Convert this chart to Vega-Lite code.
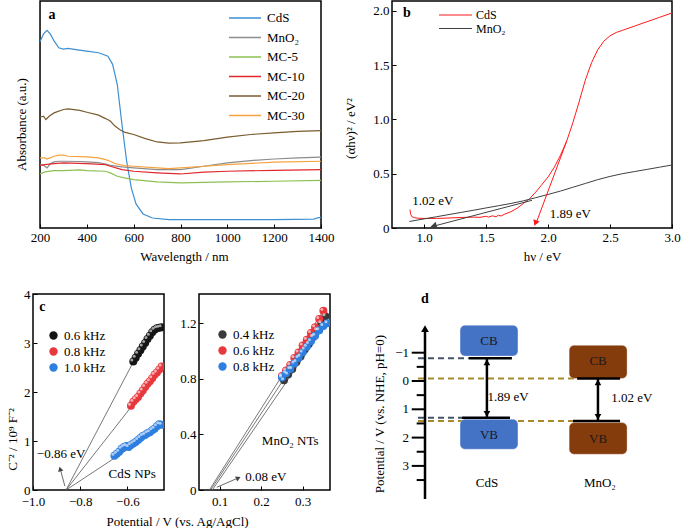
{
"$schema": "https://vega.github.io/schema/vega-lite/v6.json",
"padding": {"left": 5, "top": 0, "right": 0, "bottom": 0},
"config": {
  "font": "Liberation Serif",
  "view": {"stroke": "#000", "strokeWidth": 1.5},
  "axis": {"domain": false, "grid": false, "tickColor": "#000", "tickSize": -4, "tickWidth": 1, "labelFont": "Liberation Serif", "labelFontSize": 13, "labelColor": "#000", "labelPadding": 7, "labelFlush": false, "labelOverlap": false, "titleFont": "Liberation Serif", "titleFontSize": 13, "titleFontWeight": "normal", "titleColor": "#000"},
  "legend": {"labelFont": "Liberation Serif", "labelColor": "#000", "labelFontSize": 13},
  "text": {"font": "Liberation Serif", "fontSize": 13, "color": "#000"}
},
"datasets": {
  "abs": [
    {"s":"CdS","w":200,"v":82.1},{"s":"CdS","w":215,"v":85.5},{"s":"CdS","w":230,"v":87.1},{"s":"CdS","w":245,"v":85.3},{"s":"CdS","w":260,"v":82.4},{"s":"CdS","w":280,"v":79.4},{"s":"CdS","w":300,"v":78.8},{"s":"CdS","w":320,"v":79.1},{"s":"CdS","w":360,"v":78.5},{"s":"CdS","w":400,"v":77.9},{"s":"CdS","w":450,"v":77.2},{"s":"CdS","w":490,"v":75.7},{"s":"CdS","w":510,"v":72.1},{"s":"CdS","w":530,"v":63.2},{"s":"CdS","w":550,"v":45.6},{"s":"CdS","w":570,"v":29.4},{"s":"CdS","w":590,"v":17.6},{"s":"CdS","w":610,"v":10.6},{"s":"CdS","w":640,"v":6.2},{"s":"CdS","w":680,"v":4.4},{"s":"CdS","w":750,"v":3.7},{"s":"CdS","w":800,"v":3.7},{"s":"CdS","w":1000,"v":3.7},{"s":"CdS","w":1200,"v":3.7},{"s":"CdS","w":1370,"v":3.9},{"s":"CdS","w":1385,"v":4.5},{"s":"CdS","w":1400,"v":4.7},
    {"s":"MnO₂","w":200,"v":27.9},{"s":"MnO₂","w":215,"v":27.6},{"s":"MnO₂","w":230,"v":26.5},{"s":"MnO₂","w":245,"v":28.4},{"s":"MnO₂","w":260,"v":29.1},{"s":"MnO₂","w":280,"v":29.4},{"s":"MnO₂","w":300,"v":29.4},{"s":"MnO₂","w":370,"v":29.3},{"s":"MnO₂","w":400,"v":29.1},{"s":"MnO₂","w":450,"v":28.8},{"s":"MnO₂","w":480,"v":28.2},{"s":"MnO₂","w":500,"v":27.6},{"s":"MnO₂","w":550,"v":26.9},{"s":"MnO₂","w":600,"v":26.5},{"s":"MnO₂","w":700,"v":25.7},{"s":"MnO₂","w":800,"v":25.7},{"s":"MnO₂","w":900,"v":27.2},{"s":"MnO₂","w":1000,"v":28.7},{"s":"MnO₂","w":1100,"v":29.7},{"s":"MnO₂","w":1200,"v":30.4},{"s":"MnO₂","w":1300,"v":30.9},{"s":"MnO₂","w":1400,"v":31.2},
    {"s":"MC-5","w":200,"v":23.8},{"s":"MC-5","w":220,"v":24.7},{"s":"MC-5","w":260,"v":25.3},{"s":"MC-5","w":300,"v":25.3},{"s":"MC-5","w":370,"v":25.6},{"s":"MC-5","w":400,"v":25.3},{"s":"MC-5","w":480,"v":25.0},{"s":"MC-5","w":500,"v":24.3},{"s":"MC-5","w":530,"v":22.8},{"s":"MC-5","w":560,"v":22.1},{"s":"MC-5","w":600,"v":21.3},{"s":"MC-5","w":700,"v":20.3},{"s":"MC-5","w":800,"v":19.9},{"s":"MC-5","w":1000,"v":20.3},{"s":"MC-5","w":1200,"v":20.6},{"s":"MC-5","w":1400,"v":21.0},
    {"s":"MC-10","w":200,"v":27.6},{"s":"MC-10","w":220,"v":27.9},{"s":"MC-10","w":260,"v":28.4},{"s":"MC-10","w":300,"v":28.7},{"s":"MC-10","w":400,"v":28.4},{"s":"MC-10","w":480,"v":27.9},{"s":"MC-10","w":500,"v":27.2},{"s":"MC-10","w":550,"v":25.7},{"s":"MC-10","w":600,"v":25.0},{"s":"MC-10","w":700,"v":24.3},{"s":"MC-10","w":800,"v":23.8},{"s":"MC-10","w":900,"v":24.6},{"s":"MC-10","w":1000,"v":25.0},{"s":"MC-10","w":1200,"v":25.4},{"s":"MC-10","w":1400,"v":25.7},
    {"s":"MC-20","w":200,"v":48.8},{"s":"MC-20","w":215,"v":49.3},{"s":"MC-20","w":225,"v":47.8},{"s":"MC-20","w":240,"v":49.3},{"s":"MC-20","w":260,"v":50.7},{"s":"MC-20","w":300,"v":52.2},{"s":"MC-20","w":320,"v":52.5},{"s":"MC-20","w":370,"v":51.8},{"s":"MC-20","w":400,"v":51.0},{"s":"MC-20","w":450,"v":49.7},{"s":"MC-20","w":480,"v":48.2},{"s":"MC-20","w":500,"v":47.1},{"s":"MC-20","w":520,"v":44.9},{"s":"MC-20","w":540,"v":43.4},{"s":"MC-20","w":560,"v":42.2},{"s":"MC-20","w":600,"v":41.2},{"s":"MC-20","w":650,"v":39.4},{"s":"MC-20","w":700,"v":37.9},{"s":"MC-20","w":750,"v":37.4},{"s":"MC-20","w":800,"v":37.5},{"s":"MC-20","w":900,"v":38.5},{"s":"MC-20","w":1000,"v":40.0},{"s":"MC-20","w":1100,"v":41.2},{"s":"MC-20","w":1200,"v":41.9},{"s":"MC-20","w":1300,"v":42.6},{"s":"MC-20","w":1400,"v":42.9},
    {"s":"MC-30","w":200,"v":30.9},{"s":"MC-30","w":220,"v":30.9},{"s":"MC-30","w":230,"v":30.4},{"s":"MC-30","w":260,"v":31.6},{"s":"MC-30","w":280,"v":32.1},{"s":"MC-30","w":300,"v":32.1},{"s":"MC-30","w":320,"v":31.6},{"s":"MC-30","w":400,"v":31.3},{"s":"MC-30","w":450,"v":30.9},{"s":"MC-30","w":480,"v":30.1},{"s":"MC-30","w":500,"v":29.4},{"s":"MC-30","w":520,"v":28.4},{"s":"MC-30","w":560,"v":27.5},{"s":"MC-30","w":600,"v":27.2},{"s":"MC-30","w":700,"v":26.5},{"s":"MC-30","w":750,"v":26.2},{"s":"MC-30","w":800,"v":26.5},{"s":"MC-30","w":900,"v":27.2},{"s":"MC-30","w":1000,"v":27.9},{"s":"MC-30","w":1200,"v":29.0},{"s":"MC-30","w":1400,"v":29.4}
  ],
  "b_curves": [
    {"s":"CdS","x":0.885,"y":0.17},{"s":"CdS","x":0.89,"y":0.13},{"s":"CdS","x":0.9,"y":0.105},{"s":"CdS","x":0.92,"y":0.095},{"s":"CdS","x":0.95,"y":0.09},{"s":"CdS","x":1.0,"y":0.088},{"s":"CdS","x":1.1,"y":0.088},{"s":"CdS","x":1.2,"y":0.092},{"s":"CdS","x":1.3,"y":0.097},{"s":"CdS","x":1.4,"y":0.1},{"s":"CdS","x":1.45,"y":0.098},{"s":"CdS","x":1.5,"y":0.108},{"s":"CdS","x":1.52,"y":0.1},{"s":"CdS","x":1.55,"y":0.112},{"s":"CdS","x":1.58,"y":0.104},{"s":"CdS","x":1.6,"y":0.118},{"s":"CdS","x":1.62,"y":0.11},{"s":"CdS","x":1.65,"y":0.128},{"s":"CdS","x":1.7,"y":0.15},{"s":"CdS","x":1.75,"y":0.182},{"s":"CdS","x":1.8,"y":0.225},{"s":"CdS","x":1.85,"y":0.27},{"s":"CdS","x":1.9,"y":0.33},{"s":"CdS","x":1.95,"y":0.4},{"s":"CdS","x":2.0,"y":0.47},{"s":"CdS","x":2.05,"y":0.56},{"s":"CdS","x":2.1,"y":0.67},{"s":"CdS","x":2.15,"y":0.8},{"s":"CdS","x":2.2,"y":0.97},{"s":"CdS","x":2.25,"y":1.16},{"s":"CdS","x":2.3,"y":1.36},{"s":"CdS","x":2.35,"y":1.52},{"s":"CdS","x":2.4,"y":1.64},{"s":"CdS","x":2.45,"y":1.72},{"s":"CdS","x":2.5,"y":1.77},{"s":"CdS","x":2.55,"y":1.8},{"s":"CdS","x":2.6,"y":1.82},{"s":"CdS","x":2.7,"y":1.86},{"s":"CdS","x":2.8,"y":1.9},{"s":"CdS","x":2.9,"y":1.94},{"s":"CdS","x":3.0,"y":1.98},
    {"s":"MnO₂","x":0.88,"y":0.06},{"s":"MnO₂","x":0.95,"y":0.074},{"s":"MnO₂","x":1.0,"y":0.084},{"s":"MnO₂","x":1.1,"y":0.104},{"s":"MnO₂","x":1.2,"y":0.124},{"s":"MnO₂","x":1.3,"y":0.144},{"s":"MnO₂","x":1.4,"y":0.164},{"s":"MnO₂","x":1.5,"y":0.185},{"s":"MnO₂","x":1.6,"y":0.205},{"s":"MnO₂","x":1.7,"y":0.226},{"s":"MnO₂","x":1.8,"y":0.25},{"s":"MnO₂","x":1.9,"y":0.279},{"s":"MnO₂","x":2.0,"y":0.309},{"s":"MnO₂","x":2.1,"y":0.34},{"s":"MnO₂","x":2.2,"y":0.375},{"s":"MnO₂","x":2.3,"y":0.41},{"s":"MnO₂","x":2.4,"y":0.445},{"s":"MnO₂","x":2.5,"y":0.475},{"s":"MnO₂","x":2.6,"y":0.5},{"s":"MnO₂","x":2.7,"y":0.52},{"s":"MnO₂","x":2.8,"y":0.54},{"s":"MnO₂","x":2.9,"y":0.56},{"s":"MnO₂","x":3.0,"y":0.58}
  ],
  "cl_pts": [
    {"s":"0.6 kHz","x":-0.575,"y":2.62},{"s":"0.6 kHz","x":-0.565,"y":2.7},{"s":"0.6 kHz","x":-0.555,"y":2.78},{"s":"0.6 kHz","x":-0.545,"y":2.85},{"s":"0.6 kHz","x":-0.535,"y":2.93},{"s":"0.6 kHz","x":-0.525,"y":3.0},{"s":"0.6 kHz","x":-0.515,"y":3.08},{"s":"0.6 kHz","x":-0.505,"y":3.15},{"s":"0.6 kHz","x":-0.495,"y":3.22},{"s":"0.6 kHz","x":-0.485,"y":3.27},{"s":"0.6 kHz","x":-0.475,"y":3.3},{"s":"0.6 kHz","x":-0.465,"y":3.31},{"s":"0.6 kHz","x":-0.455,"y":3.32},
    {"s":"0.8 kHz","x":-0.585,"y":1.72},{"s":"0.8 kHz","x":-0.575,"y":1.8},{"s":"0.8 kHz","x":-0.565,"y":1.85},{"s":"0.8 kHz","x":-0.555,"y":1.9},{"s":"0.8 kHz","x":-0.545,"y":1.97},{"s":"0.8 kHz","x":-0.535,"y":2.03},{"s":"0.8 kHz","x":-0.525,"y":2.1},{"s":"0.8 kHz","x":-0.515,"y":2.17},{"s":"0.8 kHz","x":-0.505,"y":2.22},{"s":"0.8 kHz","x":-0.495,"y":2.28},{"s":"0.8 kHz","x":-0.485,"y":2.35},{"s":"0.8 kHz","x":-0.475,"y":2.4},{"s":"0.8 kHz","x":-0.465,"y":2.46},{"s":"0.8 kHz","x":-0.455,"y":2.52},
    {"s":"1.0 kHz","x":-0.655,"y":0.7},{"s":"1.0 kHz","x":-0.645,"y":0.74},{"s":"1.0 kHz","x":-0.635,"y":0.78},{"s":"1.0 kHz","x":-0.625,"y":0.84},{"s":"1.0 kHz","x":-0.615,"y":0.88},{"s":"1.0 kHz","x":-0.605,"y":0.9},{"s":"1.0 kHz","x":-0.595,"y":0.88},{"s":"1.0 kHz","x":-0.585,"y":0.92},{"s":"1.0 kHz","x":-0.575,"y":0.95},{"s":"1.0 kHz","x":-0.565,"y":0.98},{"s":"1.0 kHz","x":-0.555,"y":1.02},{"s":"1.0 kHz","x":-0.545,"y":1.06},{"s":"1.0 kHz","x":-0.535,"y":1.1},{"s":"1.0 kHz","x":-0.525,"y":1.12},{"s":"1.0 kHz","x":-0.515,"y":1.16},{"s":"1.0 kHz","x":-0.505,"y":1.18},{"s":"1.0 kHz","x":-0.495,"y":1.22},{"s":"1.0 kHz","x":-0.485,"y":1.25},{"s":"1.0 kHz","x":-0.475,"y":1.3},{"s":"1.0 kHz","x":-0.465,"y":1.34},{"s":"1.0 kHz","x":-0.455,"y":1.33}
  ],
  "cl_fit": [
    {"s":"0.6 kHz","x":-0.86,"y":0},{"s":"0.6 kHz","x":-0.5,"y":3.3},
    {"s":"0.8 kHz","x":-0.86,"y":0},{"s":"0.8 kHz","x":-0.45,"y":2.52},
    {"s":"1.0 kHz","x":-0.86,"y":0},{"s":"1.0 kHz","x":-0.45,"y":1.3}
  ],
  "cr_pts": [
    {"s":"0.4 kHz","x":0.255,"y":0.79},{"s":"0.4 kHz","x":0.265,"y":0.83},{"s":"0.4 kHz","x":0.275,"y":0.87},{"s":"0.4 kHz","x":0.285,"y":0.92},{"s":"0.4 kHz","x":0.295,"y":0.96},{"s":"0.4 kHz","x":0.305,"y":1.01},{"s":"0.4 kHz","x":0.315,"y":1.05},{"s":"0.4 kHz","x":0.325,"y":1.1},{"s":"0.4 kHz","x":0.335,"y":1.15},{"s":"0.4 kHz","x":0.345,"y":1.2},{"s":"0.4 kHz","x":0.355,"y":1.25},
    {"s":"0.6 kHz","x":0.25,"y":0.82},{"s":"0.6 kHz","x":0.26,"y":0.86},{"s":"0.6 kHz","x":0.27,"y":0.9},{"s":"0.6 kHz","x":0.28,"y":0.95},{"s":"0.6 kHz","x":0.29,"y":0.99},{"s":"0.6 kHz","x":0.3,"y":1.04},{"s":"0.6 kHz","x":0.31,"y":1.08},{"s":"0.6 kHz","x":0.32,"y":1.13},{"s":"0.6 kHz","x":0.33,"y":1.17},{"s":"0.6 kHz","x":0.34,"y":1.23},{"s":"0.6 kHz","x":0.35,"y":1.29},
    {"s":"0.8 kHz","x":0.25,"y":0.81},{"s":"0.8 kHz","x":0.26,"y":0.84},{"s":"0.8 kHz","x":0.27,"y":0.87},{"s":"0.8 kHz","x":0.28,"y":0.91},{"s":"0.8 kHz","x":0.29,"y":0.95},{"s":"0.8 kHz","x":0.3,"y":0.99},{"s":"0.8 kHz","x":0.31,"y":1.03},{"s":"0.8 kHz","x":0.32,"y":1.07},{"s":"0.8 kHz","x":0.33,"y":1.11},{"s":"0.8 kHz","x":0.34,"y":1.15},{"s":"0.8 kHz","x":0.35,"y":1.18},{"s":"0.8 kHz","x":0.36,"y":1.2}
  ],
  "cr_fit": [
    {"s":"0.4 kHz","x":0.078,"y":0},{"s":"0.4 kHz","x":0.355,"y":1.25},
    {"s":"0.6 kHz","x":0.075,"y":0},{"s":"0.6 kHz","x":0.35,"y":1.29},
    {"s":"0.8 kHz","x":0.082,"y":0},{"s":"0.8 kHz","x":0.358,"y":1.2}
  ],
  "d_box": [
    {"m":"CdS","band":"CB","x1":2.97,"x2":4.78,"y1":-1.97,"y2":-0.88,"xc":3.875,"yc":-1.43},
    {"m":"CdS","band":"VB","x1":2.97,"x2":4.78,"y1":1.35,"y2":2.41,"xc":3.875,"yc":1.9},
    {"m":"MnO₂","band":"CB","x1":6.38,"x2":8.19,"y1":-1.26,"y2":-0.09,"xc":7.285,"yc":-0.69},
    {"m":"MnO₂","band":"VB","x1":6.38,"x2":8.19,"y1":1.47,"y2":2.59,"xc":7.285,"yc":2.04}
  ],
  "d_level": [
    {"m":"CdS","x":3.25,"x2":4.59,"y":-0.8},
    {"m":"CdS","x":3.03,"x2":4.53,"y":1.3},
    {"m":"MnO₂","x":6.63,"x2":7.97,"y":-0.09},
    {"m":"MnO₂","x":6.5,"x2":7.97,"y":1.41}
  ],
  "d_dash": [
    {"m":"CdS","x":1.656,"x2":3.25,"y":-0.8},{"m":"MnO₂","x":1.656,"x2":6.63,"y":-0.09},{"m":"CdS","x":1.656,"x2":3.03,"y":1.3},{"m":"MnO₂","x":1.656,"x2":6.5,"y":1.41}
  ],
  "d_gap": [
    {"m":"CdS","x":3.81,"y":-0.8,"y2":1.3,"tx":4.47,"ty":0.57,"t":"1.89 eV"},
    {"m":"MnO₂","x":7.28,"y":-0.09,"y2":1.41,"tx":8.34,"ty":0.61,"t":"1.02 eV"}
  ],
  "d_axis": [{"x":1.875,"y":-1.8,"y2":4.17}],
  "d_head": [{"x":1.875,"y":-1.85}],
  "d_major": [{"y":-1,"lab":"−1","x":1.46,"x2":1.875,"lx":1.375},{"y":0,"lab":"0","x":1.46,"x2":1.875,"lx":1.375},{"y":1,"lab":"1","x":1.46,"x2":1.875,"lx":1.375},{"y":2,"lab":"2","x":1.46,"x2":1.875,"lx":1.375},{"y":3,"lab":"3","x":1.46,"x2":1.875,"lx":1.375}],
  "d_minor": [{"y":-0.5,"x":1.615,"x2":1.875},{"y":0.5,"x":1.615,"x2":1.875},{"y":1.5,"x":1.615,"x2":1.875},{"y":2.5,"x":1.615,"x2":1.875},{"y":3.5,"x":1.615,"x2":1.875}],
  "d_text": [{"x":3.81,"y":3.6,"t":"CdS"},{"x":7.34,"y":3.6,"t":"MnO₂"}],
  "d_title": [{"x":0.47,"y":1.17,"t":"Potential / V (vs. NHE, pH=0)"}],
  "d_tag": [{"x":1.875,"y":-2.9,"t":"d"}]
},
"resolve": {"scale": {"color": "independent", "fill": "independent", "stroke": "independent"}, "legend": {"color": "independent"}},
"spacing": 23,
"vconcat": [
 {
  "hconcat": [
   {
    "width": 288, "height": 227,
    "view": {"stroke": null},
    "encoding": {
      "x": {"field": "w", "type": "quantitative", "scale": {"domain": [170, 1400], "nice": false, "zero": false}, "axis": {"values": [200, 400, 600, 800, 1000, 1200, 1400], "format": "d", "title": "Wavelength / nm", "titleX": 151, "titleY": 28, "titleBaseline": "middle"}},
      "y": {"field": "v", "type": "quantitative", "scale": {"domain": [0, 100], "nice": false}, "axis": {"ticks": false, "labels": false, "title": "Absorbance (a.u.)", "titleX": -12, "titleY": 123, "titleAngle": 270, "titleBaseline": "middle", "titleAlign": "center"}}
    },
    "layer": [
      {"data": {"values": [{"w": 200, "w2": 1400, "v": 0, "v2": 100}]}, "mark": {"type": "rect", "filled": false, "stroke": "#000", "strokeWidth": 1.5}, "encoding": {"x2": {"field": "w2"}, "y2": {"field": "v2"}}},
      {"data": {"name": "abs"}, "mark": {"type": "line", "strokeWidth": 1.2, "clip": true},
       "encoding": {"color": {"field": "s", "type": "nominal", "sort": null,
         "scale": {"domain": ["CdS", "MnO₂", "MC-5", "MC-10", "MC-20", "MC-30"], "range": ["#3d8fd1", "#8c8c8c", "#8cc152", "#e0282e", "#7a5c30", "#f7a23c"]},
         "legend": {"title": null, "orient": "none", "legendX": 205.5, "legendY": 10.5, "symbolType": "M-4,0L4,0", "symbolSize": 64, "symbolStrokeWidth": 1.5, "labelFontSize": 13, "labelOffset": 15.5, "rowPadding": 5.5, "padding": 0}}}},
      {"data": {"values": [{"w": 251, "v": 94, "t": "a"}]}, "mark": {"type": "text", "fontWeight": "bold", "fontSize": 14}, "encoding": {"text": {"field": "t"}}}
    ]
   },
   {
    "width": 280, "height": 227,
    "encoding": {
      "x": {"field": "x", "type": "quantitative", "scale": {"domain": [0.74, 3.0], "nice": false, "zero": false}, "axis": {"values": [1, 1.5, 2, 2.5, 3], "format": ".1f", "title": "hν / eV", "titleX": 150, "titleY": 28, "titleBaseline": "middle"}},
      "y": {"field": "y", "type": "quantitative", "scale": {"domain": [0, 2.09], "nice": false}, "axis": {"values": [0, 0.5, 1, 1.5, 2], "labelExpr": "datum.value === 0 ? '0' : format(datum.value, '.1f')", "title": "(αhν)² / eV²", "titleX": -42, "titleY": 127, "titleAngle": 270, "titleBaseline": "middle", "titleAlign": "center"}}
    },
    "layer": [
      {"data": {"name": "b_curves"}, "mark": {"type": "line", "strokeWidth": 1, "clip": true},
       "encoding": {"color": {"field": "s", "type": "nominal", "sort": null,
         "scale": {"domain": ["CdS", "MnO₂"], "range": ["#ff1a1a", "#404040"]},
         "legend": {"title": null, "orient": "none", "legendX": 57.5, "legendY": 8, "symbolType": "M-4.125,0L4.125,0", "symbolSize": 64, "symbolStrokeWidth": 1.2, "labelFontSize": 12, "labelOffset": 14.5, "rowPadding": 1.5, "padding": 0}}}},
      {"data": {"values": [{"x": 2.15, "y": 0.8}, {"x": 1.905, "y": 0.05}]}, "mark": {"type": "line", "color": "#ff1a1a", "strokeWidth": 1}},
      {"data": {"values": [{"x": 1.898, "y": 0.045}]}, "mark": {"type": "point", "shape": "triangle-down", "angle": 20, "size": 45, "filled": true, "color": "#ff1a1a", "opacity": 1}},
      {"data": {"values": [{"x": 1.06, "y": 0.012}, {"x": 1.87, "y": 0.255}]}, "mark": {"type": "line", "color": "#404040", "strokeWidth": 1}},
      {"data": {"values": [{"x": 1.075, "y": 0.018}]}, "mark": {"type": "point", "shape": "triangle-left", "angle": -15, "size": 55, "filled": true, "color": "#404040", "opacity": 1}},
      {"data": {"values": [{"x": 1.07, "y": 0.25, "t": "1.02 eV"}, {"x": 2.18, "y": 0.13, "t": "1.89 eV"}]}, "mark": {"type": "text", "fontSize": 13}, "encoding": {"text": {"field": "t"}}},
      {"data": {"values": [{"x": 0.861, "y": 1.98, "t": "b"}]}, "mark": {"type": "text", "fontWeight": "bold", "fontSize": 14}, "encoding": {"text": {"field": "t"}}}
    ]
   }
  ],
  "spacing": 71,
  "bounds": "flush",
  "resolve": {"scale": {"color": "independent"}, "legend": {"color": "independent"}}
 },
 {
  "hconcat": [
   {
    "width": 131, "height": 196,
    "encoding": {
      "x": {"field": "x", "type": "quantitative", "scale": {"domain": [-1.0, -0.445], "nice": false, "zero": false}, "axis": {"values": [-1.0, -0.8, -0.6], "format": ".1f", "labelPadding": 9, "title": "Potential / V (vs. Ag/AgCl)", "titleX": 144, "titleY": 31, "titleBaseline": "middle"}},
      "y": {"field": "y", "type": "quantitative", "scale": {"domain": [0, 4], "nice": false}, "axis": {"values": [0, 1, 2, 3, 4], "format": "d", "title": "C⁻² / 10⁹ F⁻²", "titleX": -21, "titleY": 145, "titleAngle": 270, "titleBaseline": "middle", "titleAlign": "center"}}
    },
    "layer": [
      {"data": {"name": "cl_fit"}, "mark": {"type": "line", "color": "#555555", "strokeWidth": 0.8}, "encoding": {"detail": {"field": "s"}}},
      {"data": {"name": "cl_pts"}, "mark": {"type": "point", "filled": true, "size": 64, "opacity": 1, "clip": true},
       "encoding": {"color": {"field": "s", "type": "nominal", "sort": null,
         "scale": {"domain": ["0.6 kHz", "0.8 kHz", "1.0 kHz"], "range": ["#151515", "#e8383d", "#2d7fe0"]},
         "legend": {"title": null, "orient": "none", "legendX": 14, "legendY": 35, "symbolType": "circle", "symbolSize": 70, "symbolStrokeWidth": 0, "labelFontSize": 13, "labelOffset": 4, "rowPadding": 2, "padding": 0}}}},
      {"data": {"name": "cl_pts"}, "mark": {"type": "point", "filled": true, "size": 9, "color": "#ffffff", "opacity": 0.6, "xOffset": -1.5, "yOffset": -1.5, "clip": true}},
      {"data": {"values": [{"x": -0.865, "y": 0.08}, {"x": -0.884, "y": 0.42}]}, "mark": {"type": "line", "color": "#444444", "strokeWidth": 0.8}},
      {"data": {"values": [{"x": -0.885, "y": 0.43}]}, "mark": {"type": "point", "shape": "triangle-up", "angle": -15, "size": 30, "filled": true, "color": "#444444", "opacity": 1}},
      {"data": {"values": [{"x": -0.881, "y": 0.74, "t": "−0.86 eV"}, {"x": -0.58, "y": 0.33, "t": "CdS NPs"}]}, "mark": {"type": "text", "fontSize": 13}, "encoding": {"text": {"field": "t"}}},
      {"data": {"values": [{"x": -0.96, "y": 3.73, "t": "c"}]}, "mark": {"type": "text", "fontWeight": "bold", "fontSize": 14}, "encoding": {"text": {"field": "t"}}}
    ]
   },
   {
    "width": 131, "height": 196,
    "encoding": {
      "x": {"field": "x", "type": "quantitative", "scale": {"domain": [0.05, 0.366], "nice": false, "zero": false}, "axis": {"values": [0.1, 0.2, 0.3], "format": ".1f", "labelPadding": 9, "title": null}},
      "y": {"field": "y", "type": "quantitative", "scale": {"domain": [0, 1.41], "nice": false}, "axis": {"values": [0, 0.4, 0.8, 1.2], "labelExpr": "datum.value === 0 ? '0' : format(datum.value, '.1f')", "title": null}}
    },
    "layer": [
      {"data": {"name": "cr_fit"}, "mark": {"type": "line", "color": "#555555", "strokeWidth": 0.8}, "encoding": {"detail": {"field": "s"}}},
      {"data": {"name": "cr_pts"}, "mark": {"type": "point", "filled": true, "size": 64, "opacity": 1, "clip": true},
       "encoding": {"color": {"field": "s", "type": "nominal", "sort": null,
         "scale": {"domain": ["0.4 kHz", "0.6 kHz", "0.8 kHz"], "range": ["#3a3a3a", "#e8383d", "#2d7fe0"]},
         "legend": {"title": null, "orient": "none", "legendX": 17, "legendY": 34, "symbolType": "circle", "symbolSize": 70, "symbolStrokeWidth": 0, "labelFontSize": 13, "labelOffset": 4, "rowPadding": 2, "padding": 0}}}},
      {"data": {"name": "cr_pts"}, "mark": {"type": "point", "filled": true, "size": 9, "color": "#ffffff", "opacity": 0.6, "xOffset": -1.5, "yOffset": -1.5, "clip": true}},
      {"data": {"values": [{"x": 0.093, "y": 0.02}, {"x": 0.141, "y": 0.082}]}, "mark": {"type": "line", "color": "#444444", "strokeWidth": 0.8}},
      {"data": {"values": [{"x": 0.145, "y": 0.086}]}, "mark": {"type": "point", "shape": "triangle-right", "angle": -23, "size": 30, "filled": true, "color": "#444444", "opacity": 1}},
      {"data": {"values": [{"x": 0.211, "y": 0.09, "t": "0.08 eV"}, {"x": 0.27, "y": 0.35, "t": "MnO₂ NTs"}]}, "mark": {"type": "text", "fontSize": 13}, "encoding": {"text": {"field": "t"}}}
    ]
   },
   {
    "width": 320, "height": 215,
    "view": {"stroke": null},
    "encoding": {
      "x": {"field": "x", "type": "quantitative", "scale": {"domain": [0, 10], "nice": false, "zero": false}, "axis": null},
      "y": {"field": "y", "type": "quantitative", "scale": {"domain": [-3.074, 4.523], "nice": false, "zero": false, "reverse": true}, "axis": null}
    },
    "layer": [
      {"data": {"name": "d_dash"}, "mark": {"type": "rule", "strokeDash": [6, 4], "strokeWidth": 2},
       "encoding": {"x2": {"field": "x2"},
         "stroke": {"field": "m", "type": "nominal", "scale": {"domain": ["CdS", "MnO₂"], "range": ["#44546a", "#a68a2c"]}, "legend": null}}},
      {"data": {"name": "d_box"}, "mark": {"type": "rect", "cornerRadius": 5, "stroke": "#ffffff", "strokeOpacity": 0.35, "strokeWidth": 1},
       "encoding": {"x": {"field": "x1"}, "x2": {"field": "x2"}, "y": {"field": "y1"}, "y2": {"field": "y2"},
         "fill": {"field": "m", "type": "nominal", "scale": {"domain": ["CdS", "MnO₂"], "range": ["#4472c4", "#843c0c"]}, "legend": null}}},
      {"data": {"name": "d_box"}, "mark": {"type": "text", "fontSize": 13, "color": "#1a1a1a"},
       "encoding": {"x": {"field": "xc"}, "y": {"field": "yc"}, "text": {"field": "band"}}},
      {"data": {"name": "d_level"}, "mark": {"type": "rule", "color": "#000", "strokeWidth": 2.5}, "encoding": {"x2": {"field": "x2"}}},
      {"data": {"name": "d_gap"}, "mark": {"type": "rule", "color": "#000", "strokeWidth": 2.5}, "encoding": {"y2": {"field": "y2"}}},
      {"data": {"name": "d_gap"}, "mark": {"type": "point", "shape": "triangle-up", "size": 45, "filled": true, "color": "#000", "opacity": 1, "yOffset": 4}},
      {"data": {"name": "d_gap"}, "mark": {"type": "point", "shape": "triangle-down", "size": 45, "filled": true, "color": "#000", "opacity": 1, "yOffset": -4}, "encoding": {"y": {"field": "y2"}}},
      {"data": {"name": "d_gap"}, "mark": {"type": "text", "fontSize": 13}, "encoding": {"x": {"field": "tx"}, "y": {"field": "ty"}, "text": {"field": "t"}}},
      {"data": {"name": "d_text"}, "mark": {"type": "text", "fontSize": 13}, "encoding": {"text": {"field": "t"}}},
      {"data": {"name": "d_axis"}, "mark": {"type": "rule", "color": "#000", "strokeWidth": 2.5}, "encoding": {"y2": {"field": "y2"}}},
      {"data": {"name": "d_head"}, "mark": {"type": "point", "shape": "triangle-up", "size": 60, "filled": true, "color": "#000", "opacity": 1}},
      {"data": {"name": "d_major"}, "mark": {"type": "rule", "color": "#000", "strokeWidth": 2}, "encoding": {"x2": {"field": "x2"}}},
      {"data": {"name": "d_minor"}, "mark": {"type": "rule", "color": "#000", "strokeWidth": 2}, "encoding": {"x2": {"field": "x2"}}},
      {"data": {"name": "d_major"}, "mark": {"type": "text", "fontSize": 13, "align": "right"}, "encoding": {"x": {"field": "lx"}, "text": {"field": "lab"}}},
      {"data": {"name": "d_title"}, "mark": {"type": "text", "fontSize": 13, "angle": 270}, "encoding": {"text": {"field": "t"}}},
      {"data": {"name": "d_tag"}, "mark": {"type": "text", "fontSize": 14, "fontWeight": "bold"}, "encoding": {"text": {"field": "t"}}}
    ]
   }
  ],
  "spacing": 35,
  "bounds": "flush",
  "resolve": {"scale": {"color": "independent", "fill": "independent", "stroke": "independent"}, "legend": {"color": "independent"}}
 }
]
}
